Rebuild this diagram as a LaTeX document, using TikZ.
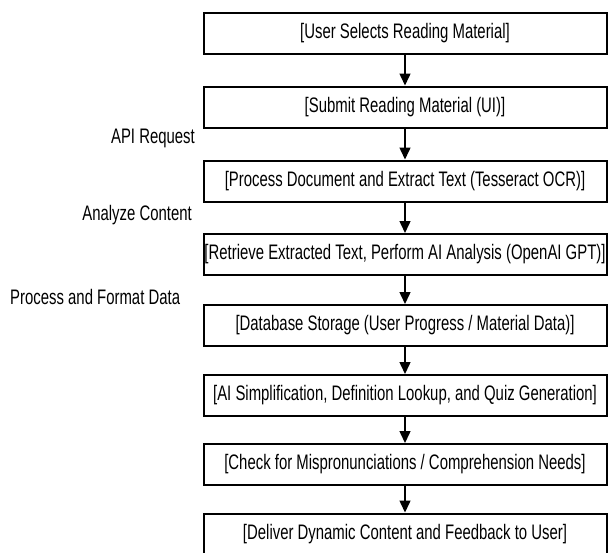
\documentclass[tikz,border=0pt]{standalone}
\usepackage{fontspec}
\setmainfont[FakeStretch=0.71]{Liberation Sans}
\usetikzlibrary{arrows.meta}

\begin{document}
\begin{tikzpicture}[x=1pt, y=-1pt,
    stepbox/.style={draw, line width=2pt, minimum width=403pt, minimum height=41pt,
      inner sep=0pt, font=\fontsize{21}{24}\selectfont},
    sidelabel/.style={inner sep=0pt, font=\fontsize{21}{24}\selectfont},
    flow/.style={line width=1.5pt, -{Triangle[width=11pt,length=12pt]}}]

  \useasboundingbox (0,0) rectangle (610,552);

  % Main steps
  \node[stepbox] (select)   at (405,33.5)  {[User Selects Reading Material]};
  \node[stepbox] (submit)   at (405,107)   {[Submit Reading Material (UI)]};
  \node[stepbox] (ocr)      at (405,181)   {[Process Document and Extract Text (Tesseract OCR)]};
  \node[stepbox] (analysis) at (405,254.5) {[Retrieve Extracted Text, Perform AI Analysis (OpenAI GPT)]};
  \node[stepbox] (storage)  at (405,325.5) {[Database Storage (User Progress / Material Data)]};
  \node[stepbox] (simplify) at (405,395.5) {[AI Simplification, Definition Lookup, and Quiz Generation]};
  \node[stepbox] (check)    at (405,464.5) {[Check for Mispronunciations / Comprehension Needs]};
  \node[stepbox] (deliver)  at (405,534)   {[Deliver Dynamic Content and Feedback to User]};

  % Side labels
  \node[sidelabel, anchor=east] (api)     at (195,138) {API Request};
  \node[sidelabel, anchor=east] (analyze) at (192,215) {Analyze Content};
  \node[sidelabel, anchor=west] (format)  at (10,297)  {Process and Format Data};

  % Arrows
  \draw[flow] (select) -- (submit);
  \draw[flow] (submit) -- (ocr);
  \draw[flow] (ocr) -- (analysis);
  \draw[flow] (analysis) -- (storage);
  \draw[flow] (storage) -- (simplify);
  \draw[flow] (simplify) -- (check);
  \draw[flow] (check) -- (deliver);

\end{tikzpicture}
\end{document}
